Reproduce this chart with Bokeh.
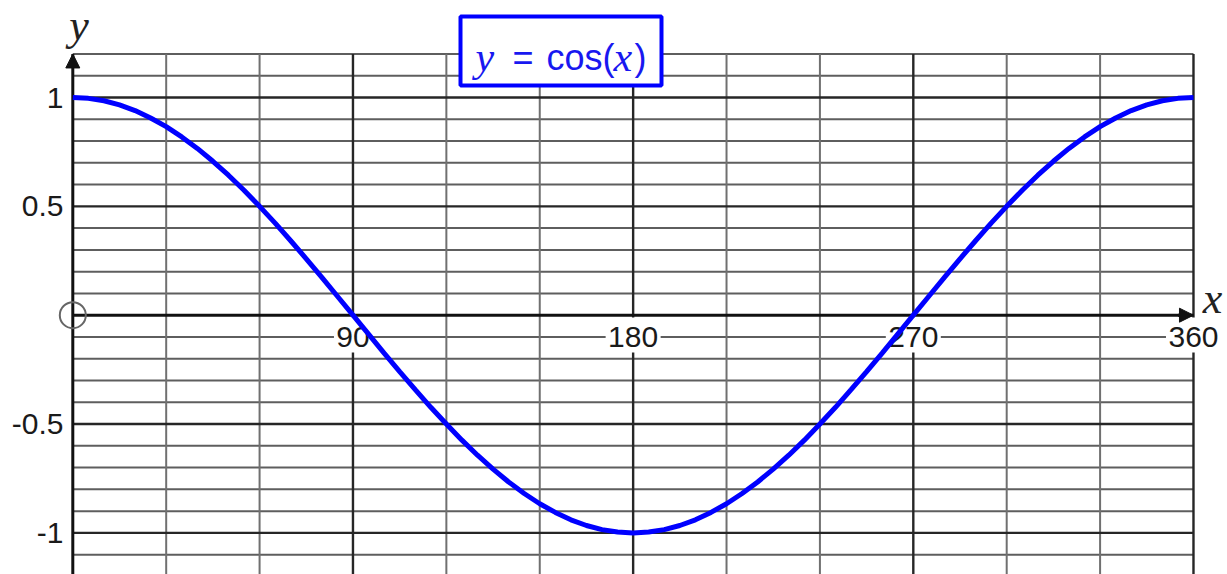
from bokeh.plotting import figure
from bokeh.models import Range1d, Arrow, NormalHead
from bokeh.core.properties import value
from bokeh.embed import file_html
from bokeh.resources import INLINE

# ---- data -------------------------------------------------------------
x_deg = [0, 5, 10, 15, 20, 25, 30, 35, 40, 45, 50, 55, 60, 65, 70, 75, 80, 85,
         90, 95, 100, 105, 110, 115, 120, 125, 130, 135, 140, 145, 150, 155, 160,
         165, 170, 175, 180, 185, 190, 195, 200, 205, 210, 215, 220, 225, 230, 235,
         240, 245, 250, 255, 260, 265, 270, 275, 280, 285, 290, 295, 300, 305, 310,
         315, 320, 325, 330, 335, 340, 345, 350, 355, 360]
cos_vals = [1.000, 0.996, 0.985, 0.966, 0.940, 0.906, 0.866, 0.819, 0.766, 0.707,
            0.643, 0.574, 0.500, 0.423, 0.342, 0.259, 0.174, 0.087,
            0.000, -0.087, -0.174, -0.259, -0.342, -0.423, -0.500, -0.574, -0.643,
            -0.707, -0.766, -0.819, -0.866, -0.906, -0.940, -0.966, -0.985, -0.996,
            -1.000, -0.996, -0.985, -0.966, -0.940, -0.906, -0.866, -0.819, -0.766,
            -0.707, -0.643, -0.574, -0.500, -0.423, -0.342, -0.259, -0.174, -0.087,
            0.000, 0.087, 0.174, 0.259, 0.342, 0.423, 0.500, 0.574, 0.643, 0.707,
            0.766, 0.819, 0.866, 0.906, 0.940, 0.966, 0.985, 0.996, 1.000]

x_major = [90, 180, 270, 360]
x_minor = [30, 60, 120, 150, 210, 240, 300, 330]
y_major = [-1.0, -0.5, 0.5, 1.0]
y_minor = [-1.2, -1.1, -0.9, -0.8, -0.7, -0.6, -0.4, -0.3, -0.2, -0.1,
           0.1, 0.2, 0.3, 0.4, 0.6, 0.7, 0.8, 0.9, 1.1, 1.2]

x_tick_vals = [90, 180, 270, 360]
x_tick_labels = ["90", "180", "270", "360"]
y_tick_vals = [1.0, 0.5, -0.5, -1.0]
y_tick_labels = ["1", "0.5", "-0.5", "-1"]

# ---- canvas geometry ----------------------------------------------------
W, H = 1227, 574
ORIGIN_PX, ORIGIN_PY = 72.3, 314.7      # canvas pixel of (0, 0)
PX_PER_DEG, PX_PER_UNIT = 3.113, 217.7

def dx(px):
    return (px - ORIGIN_PX) / PX_PER_DEG

def dy(py):
    return (ORIGIN_PY - py) / PX_PER_UNIT

X_LO, X_HI = 0, 360
Y_LO, Y_HI = -1.3, 1.2

p = figure(width=W, height=H, output_backend="svg", toolbar_location=None,
           x_range=Range1d(dx(0), dx(W)), y_range=Range1d(dy(H), dy(0)),
           x_axis_type=None, y_axis_type=None, min_border=0)
p.outline_line_color = None
p.background_fill_color = "white"
p.border_fill_color = "white"

# ---- grid ---------------------------------------------------------------
p.segment(x0=[X_LO] * len(y_minor), y0=y_minor, x1=[X_HI] * len(y_minor), y1=y_minor,
          line_color="#5e5e5e", line_width=2, level="underlay")
p.segment(x0=x_minor, y0=[Y_LO] * len(x_minor), x1=x_minor, y1=[Y_HI] * len(x_minor),
          line_color="#707070", line_width=2, level="underlay")
p.segment(x0=[X_LO] * len(y_major), y0=y_major, x1=[X_HI] * len(y_major), y1=y_major,
          line_color="#262626", line_width=2.4, level="underlay")
p.segment(x0=x_major, y0=[Y_LO] * len(x_major), x1=x_major, y1=[Y_HI] * len(x_major),
          line_color="#262626", line_width=2.4, level="underlay")

# white patches behind the x tick labels
box_w = [17 * len(t) + 4 for t in x_tick_labels]
p.rect(x=x_tick_vals, y=[dy(334.5)] * len(x_tick_vals), width=box_w,
       height=[35] * len(x_tick_vals), width_units="screen", height_units="screen",
       fill_color="white", line_color=None, level="underlay")

# ---- axes with arrows ---------------------------------------------------
p.segment(x0=[X_LO], y0=[0], x1=[X_HI], y1=[0], line_color="#111111", line_width=3)
p.segment(x0=[0], y0=[Y_LO], x1=[0], y1=[Y_HI], line_color="#111111", line_width=3)
p.add_layout(Arrow(end=NormalHead(size=14, fill_color="#111111", line_color="#111111"),
                   x_start=X_HI - 5, y_start=0, x_end=X_HI, y_end=0,
                   line_color="#111111", line_width=3))
p.add_layout(Arrow(end=NormalHead(size=14, fill_color="#111111", line_color="#111111"),
                   x_start=0, y_start=Y_HI - 0.05, x_end=0, y_end=Y_HI,
                   line_color="#111111", line_width=3))

# origin marker
p.circle(x=[0], y=[0], radius=13, radius_units="screen", fill_color=None,
         line_color="#666666", line_width=2)

# ---- tick labels --------------------------------------------------------
p.text(x=x_tick_vals, y=[dy(336)] * len(x_tick_vals), text=x_tick_labels,
       text_font=value("Liberation Sans"), text_font_size="30px",
       text_align="center", text_baseline="middle", text_color="#1a1a1a")
p.text(x=[dx(63)] * len(y_tick_vals), y=y_tick_vals, text=y_tick_labels,
       text_font=value("Liberation Sans"), text_font_size="30px",
       text_align="right", text_baseline="middle", text_color="#1a1a1a")

# axis names
p.text(x=[dx(78.5)], y=[dy(25)], text=["y"], text_font=value("Liberation Serif"),
       text_font_style="italic", text_font_size="44px", text_align="center",
       text_baseline="middle", text_color="#222222")
p.text(x=[dx(1212)], y=[dy(298)], text=["x"], text_font=value("Liberation Serif"),
       text_font_style="italic", text_font_size="44px", text_align="center",
       text_baseline="middle", text_color="#222222")

# ---- the curve ----------------------------------------------------------
p.line(x=x_deg, y=cos_vals, line_color="#0000ff", line_width=5)

# ---- title box: y = cos(x) ---------------------------------------------
p.quad(left=[dx(460)], right=[dx(661)], top=[dy(16)], bottom=[dy(85)],
       fill_color="white", line_color="#0000ff", line_width=4)
title_parts = [("y", 475, 56, "Liberation Serif", "italic", "42px"),
               ("=", 512, 57, "Liberation Sans", "normal", "36px"),
               ("cos(", 546, 57, "Liberation Sans", "normal", "36px"),
               ("x", 613, 56, "Liberation Serif", "italic", "42px"),
               (")", 634, 57, "Liberation Sans", "normal", "36px")]
for txt, left_px, mid_py, font, style, size in title_parts:
    p.text(x=[dx(left_px)], y=[dy(mid_py)], text=[txt], text_font=value(font),
           text_font_style=style, text_font_size=size, text_align="left",
           text_baseline="middle", text_color="#1818f0")

open("out.html", "w").write(file_html(p, INLINE))
